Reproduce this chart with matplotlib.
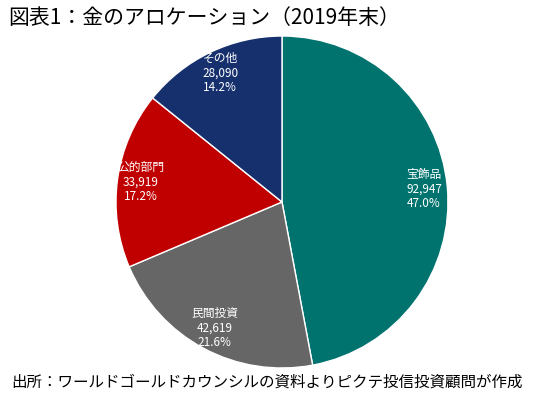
import matplotlib.pyplot as plt

plt.rcParams['font.family'] = ['Noto Sans CJK JP', 'DejaVu Sans']

# データ（2019年末、トン）
categories = ['宝飾品', '民間投資', '公的部門', 'その他']
tonnes = [92947, 42619, 33919, 28090]
shares = [47.0, 21.6, 17.2, 14.2]
colors = ['#00736F', '#666666', '#C00000', '#16306E']

labels = [f'{c}\n{v:,}\n{s:.1f}%' for c, v, s in zip(categories, tonnes, shares)]

fig = plt.figure(figsize=(5.5, 3.96), dpi=100)
ax = fig.add_axes([0.2109, 0.0707, 0.6036, 0.8384])

wedges, texts = ax.pie(tonnes, labels=labels, colors=colors, startangle=90,
                       counterclock=False, labeldistance=0.86, radius=1,
                       wedgeprops=dict(edgecolor='white', linewidth=1),
                       textprops=dict(color='white', fontsize=8.5))
for t in texts:
    t.set_horizontalalignment('center')
    t.set_verticalalignment('center')
    t.set_multialignment('center')
    t.set_linespacing(1.15)

ax.set_xlim(-1, 1)
ax.set_ylim(-1, 1)
ax.set_aspect('equal')

fig.text(0.015, 0.955, '図表1：金のアロケーション（2019年末）', fontsize=15,
         va='center', ha='left')
fig.text(0.02, 0.035, '出所：ワールドゴールドカウンシルの資料よりピクテ投信投資顧問が作成',
         fontsize=11.2, va='center', ha='left')

fig.savefig('out.png', dpi=100)
